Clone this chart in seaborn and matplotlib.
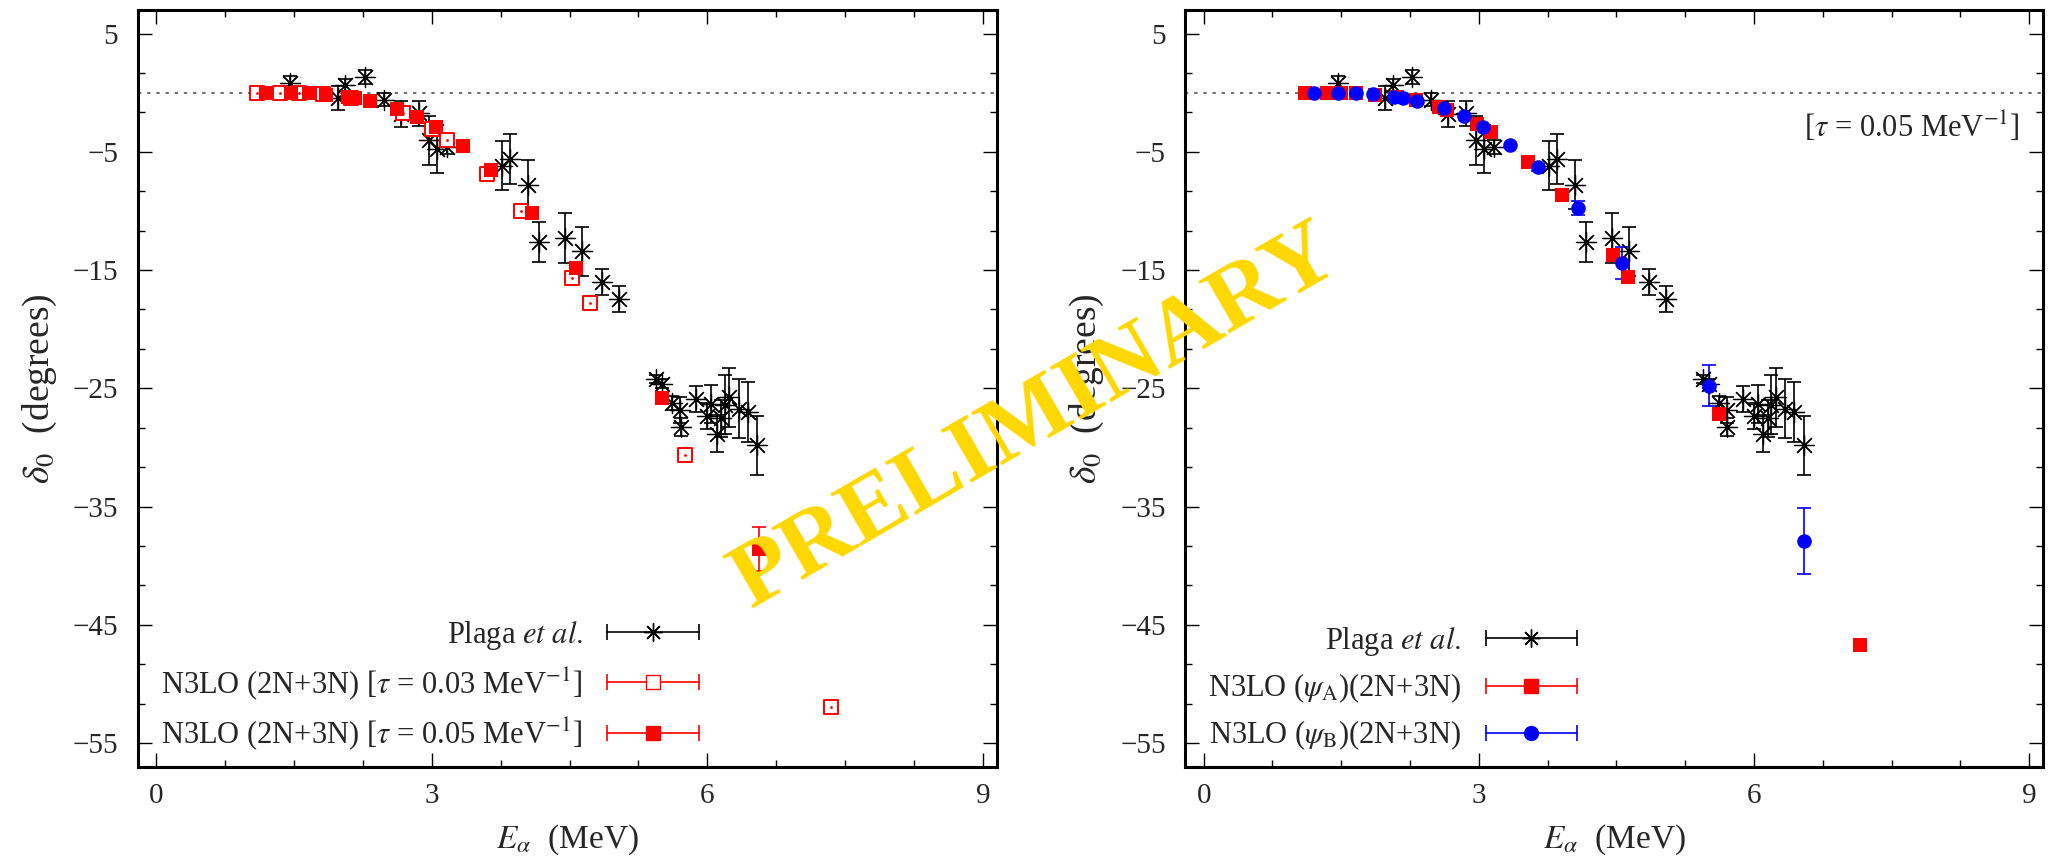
import matplotlib
matplotlib.use("Agg")
import numpy as np
import matplotlib.pyplot as plt
import seaborn as sns
from matplotlib.lines import Line2D
from matplotlib.legend_handler import HandlerLine2D, HandlerTuple
from matplotlib.ticker import MultipleLocator, FixedLocator

# Plaga et al. (experiment), same in both panels
plaga_E = [1.46, 1.98, 2.06, 2.27, 2.48, 2.66, 2.86, 2.97, 3.06, 3.17,
           3.77, 3.85, 4.05, 4.17, 4.45, 4.64, 4.85, 5.04,
           5.44, 5.51, 5.62, 5.70, 5.71, 5.88, 6.00, 6.04, 6.10, 6.15,
           6.19, 6.24, 6.34, 6.44, 6.54]
plaga_d = [0.85, -0.46, 0.67, 1.31, -0.60, -1.82, -1.73, -4.04, -4.75, -4.60,
           -6.18, -5.60, -7.78, -12.63, -12.29, -13.42, -16.01, -17.42,
           -24.20, -24.60, -26.24, -26.80, -28.27, -25.90, -27.31, -26.30, -28.83, -27.54,
           -26.38, -25.74, -26.72, -27.00, -29.82]
plaga_err = [0.6, 1.0, 0.5, 0.6, 0.56, 1.08, 1.06, 2.1, 2.0, 0.6,
             2.08, 2.08, 2.08, 1.69, 2.08, 2.08, 1.08, 1.10,
             0.35, 0.35, 0.6, 1.1, 0.75, 1.1, 1.1, 1.6, 1.55, 1.55,
             2.5, 2.5, 2.5, 2.5, 2.5]

# left panel: N3LO (2N+3N), tau = 0.03 MeV^-1 (open squares)
tau03_E = [1.10, 1.35, 1.56, 1.82, 2.12, 2.69, 3.00, 3.17, 3.60, 3.97, 4.53, 4.72, 5.76, 7.35]
tau03_d = [0.0, 0.0, 0.0, -0.10, -0.45, -1.73, -3.05, -3.99, -6.86, -10.04, -15.67, -17.79, -30.61, -51.94]

# left panel: N3LO (2N+3N), tau = 0.05 MeV^-1 (filled squares)
tau05_E = [1.20, 1.47, 1.66, 1.85, 2.09, 2.17, 2.33, 2.62, 2.84, 3.05, 3.34, 3.65, 4.09, 4.57, 5.51, 6.56]
tau05_d = [0.0, 0.0, -0.04, -0.18, -0.32, -0.46, -0.74, -1.37, -2.07, -2.92, -4.48, -6.52, -10.18, -14.83, -25.82, -38.58]
tau05_err = [0, 0, 0, 0, 0, 0, 0, 0, 0, 0, 0, 0, 0, 0, 0, 1.86]

# right panel: psi_A (red squares) and psi_B (blue circles)
psiA_E = [1.10, 1.34, 1.50, 1.66, 1.87, 2.11, 2.31, 2.56, 2.65, 2.98, 3.13, 3.54, 3.91, 4.46, 4.63, 5.62, 7.15]
psiA_d = [0.0, 0.0, 0.0, 0.0, -0.18, -0.32, -0.60, -1.17, -1.45, -2.63, -3.29, -5.89, -8.69, -13.70, -15.59, -27.14, -46.67]

psiB_E = [1.20, 1.46, 1.66, 1.85, 2.08, 2.17, 2.33, 2.62, 2.84, 3.05, 3.34, 3.64, 4.08, 4.56, 5.51, 6.55]
psiB_d = [0.0, 0.0, -0.04, -0.12, -0.32, -0.46, -0.66, -1.30, -2.00, -2.86, -4.40, -6.32, -9.75, -14.41, -24.78, -37.94]
psiB_err = [0, 0, 0, 0, 0, 0, 0, 0, 0, 0, 0, 0.3, 0.6, 1.32, 1.75, 2.79]

x_ticks = [0, 3, 6, 9]
y_ticks = [5, -5, -15, -25, -35, -45, -55]

sns.set_theme(style="ticks")
plt.rcParams["font.family"] = ["Liberation Serif", "DejaVu Serif"]
plt.rcParams["mathtext.fontset"] = "stix"
plt.rcParams["axes.unicode_minus"] = True

STAR = (8, 2, 0)


def style_axes(ax):
    ax.axhline(0, color="#555555", lw=1.2, ls=(0, (2, 3.5)), zorder=1)
    ax.set_xlim(-0.2, 9.15)
    ax.set_ylim(-57.05, 7.0)
    ax.set_xticks(x_ticks)
    ax.xaxis.set_minor_locator(MultipleLocator(0.75))
    ax.set_yticks(y_ticks)
    ax.yaxis.set_minor_locator(FixedLocator(np.arange(5, -58, -10 / 3)))
    ax.tick_params(which="both", direction="in", top=True, right=True,
                   width=1.0, labelsize=21, color="black")
    ax.tick_params(axis="x", pad=11)
    ax.tick_params(axis="y", pad=14)
    ax.tick_params(which="major", length=10)
    ax.tick_params(which="minor", length=5)
    for sp in ax.spines.values():
        sp.set_linewidth(2.2)
        sp.set_color("black")
    ax.set_xlabel(r"$E_\alpha$  (MeV)", fontsize=24, labelpad=10)
    ax.set_ylabel(r"$\delta_0$  (degrees)", fontsize=27, labelpad=10)


def draw_errors(ax, E, d, err, color):
    E, d, err = np.asarray(E), np.asarray(d), np.asarray(err, dtype=float)
    keep = err > 0
    ax.errorbar(E[keep], d[keep], yerr=err[keep], fmt="none", ecolor=color,
                elinewidth=1.2, capsize=5, capthick=1.2, zorder=2)


def draw_plaga(ax):
    draw_errors(ax, plaga_E, plaga_d, plaga_err, "black")
    sns.scatterplot(x=plaga_E, y=plaga_d, marker=STAR, s=210, color="black",
                    linewidth=0.9, ax=ax, zorder=3, legend=False)


def legend_handle(color, marker, face, ms=10):
    caps = Line2D([], [], color=color, lw=1.2, marker="|", ms=12, mew=1.2)
    mk = Line2D([], [], ls="none", marker=marker, ms=ms, color=color,
                mfc=face, mec=color, mew=1.0)
    return caps, mk


def add_legend(ax, entries, x_anchor):
    handles, labels, hmap = [], [], {tuple: HandlerTuple(ndivide=1)}
    for (caps, mk), lab in entries:
        hmap[caps] = HandlerLine2D(numpoints=2, marker_pad=0)
        hmap[mk] = HandlerLine2D(numpoints=1)
        handles.append((caps, mk))
        labels.append(lab)
    ax.legend(handles, labels, handler_map=hmap, loc="lower right",
              bbox_to_anchor=(x_anchor, 0.020), frameon=False, fontsize=22,
              markerfirst=False, handlelength=3.0, handletextpad=0.8,
              labelspacing=0.44, borderpad=0, borderaxespad=0)


fig = plt.figure(figsize=(20.59, 8.66), dpi=100)
ax1 = fig.add_axes([0.0669, 0.114, 0.4172, 0.8745])
ax2 = fig.add_axes([0.5757, 0.114, 0.4165, 0.8745])

# left panel
style_axes(ax1)
draw_plaga(ax1)
sns.scatterplot(x=tau03_E, y=tau03_d, marker="s", s=100, color="white",
                edgecolor="red", linewidth=1.4, ax=ax1, zorder=4, legend=False)
ax1.plot(tau03_E, tau03_d, ls="none", marker=".", ms=2, color="red", zorder=4)
draw_errors(ax1, tau05_E, tau05_d, tau05_err, "red")
sns.scatterplot(x=tau05_E, y=tau05_d, marker="s", s=106, color="red",
                edgecolor="red", linewidth=0, ax=ax1, zorder=5, legend=False)
add_legend(ax1, [
    (legend_handle("black", STAR, "black", ms=13), r"Plaga $\mathit{et\ al.}$"),
    (legend_handle("red", "s", "white"), r"N3LO (2N+3N) [$\tau$ = 0.03 MeV$^{-1}$]"),
    (legend_handle("red", "s", "red"), r"N3LO (2N+3N) [$\tau$ = 0.05 MeV$^{-1}$]"),
], 0.653)

# right panel
style_axes(ax2)
draw_plaga(ax2)
sns.scatterplot(x=psiA_E, y=psiA_d, marker="s", s=106, color="red",
                edgecolor="red", linewidth=0, ax=ax2, zorder=4, legend=False)
draw_errors(ax2, psiB_E, psiB_d, psiB_err, "blue")
sns.scatterplot(x=psiB_E, y=psiB_d, marker="o", s=110, color="blue",
                edgecolor="blue", linewidth=0, ax=ax2, zorder=5, legend=False)
add_legend(ax2, [
    (legend_handle("black", STAR, "black", ms=13), r"Plaga $\mathit{et\ al.}$"),
    (legend_handle("red", "s", "red"), r"N3LO ($\psi_{\rm A}$)(2N+3N)"),
    (legend_handle("blue", "o", "blue"), r"N3LO ($\psi_{\rm B}$)(2N+3N)"),
], 0.457)
ax2.text(0.973, 0.8455, r"[$\tau$ = 0.05 MeV$^{-1}$]", transform=ax2.transAxes,
         ha="right", va="center", fontsize=22)

fig.text(0.503, 0.516, "PRELIMINARY", rotation=30, color="#FFD700",
         fontsize=68, fontweight="bold", ha="center", va="center",
         family="Liberation Serif", zorder=10)

fig.savefig("out.png", dpi=100)
